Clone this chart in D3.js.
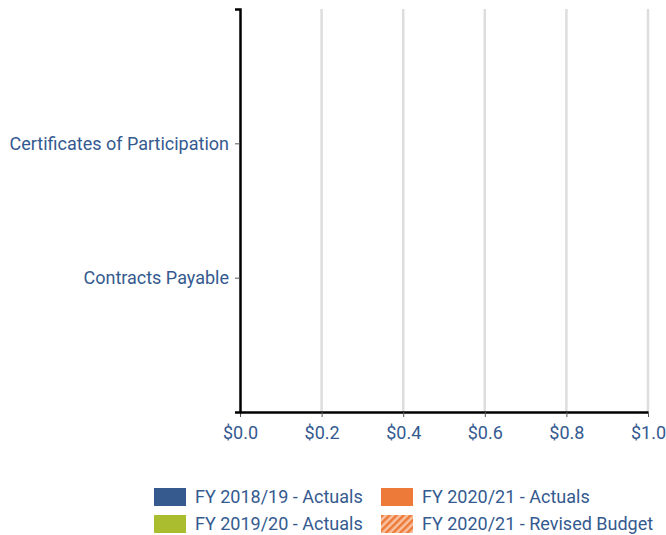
<!DOCTYPE html>
<html><head><meta charset="utf-8">
<script src="https://cdn.jsdelivr.net/npm/d3@7"></script>
<style>
body{margin:0;background:#fff;}
svg text{font-family:Roboto, "Noto Sans", sans-serif;}
</style></head>
<body><svg id="c" width="666" height="535"></svg>
<script>
const categories = ["Certificates of Participation", "Contracts Payable"];
const seriesNames = ["FY 2018/19 - Actuals", "FY 2019/20 - Actuals", "FY 2020/21 - Actuals", "FY 2020/21 - Revised Budget"];
const fy1819 = [0, 0];
const fy1920 = [0, 0];
const fy2021 = [0, 0];
const fy2021Budget = [0, 0];
const xTicks = [0, 0.2, 0.4, 0.6, 0.8, 1.0];

const colors = ["#375A8E", "#A9BD2E", "#EE7A3A", "#EE7A3A"];
const textColor = "#345A90";
const series = [fy1819, fy1920, fy2021, fy2021Budget];

const svg = d3.select("#c");
const m = {l:240, r:18, t:9, b:123};
const W = 666, H = 535;
const x = d3.scaleLinear().domain([0,1]).range([m.l, W-m.r]);
const y = d3.scalePoint().domain(categories).range([m.t, H-m.b]).padding(1);

const defs = svg.append("defs");
const pat = defs.append("pattern").attr("id","hatch").attr("patternUnits","userSpaceOnUse")
  .attr("width",5).attr("height",5).attr("patternTransform","rotate(45)");
pat.append("rect").attr("width",5).attr("height",5).attr("fill","#F8C3A3");
pat.append("rect").attr("width",2.5).attr("height",5).attr("fill","#EE7A3A");

// grid
svg.append("g").selectAll("line").data(xTicks.slice(1)).join("line")
  .attr("x1",d=>x(d)).attr("x2",d=>x(d)).attr("y1",m.t).attr("y2",H-m.b)
  .attr("stroke","#dddddd").attr("stroke-width",2.5);

// bars
const bandH = y.step()*0.6;
const bh = bandH/series.length;
series.forEach((s,i)=>{
  svg.append("g").selectAll("rect").data(categories).join("rect")
    .attr("x",x(0)).attr("y",(d)=>y(d)-bandH/2+i*bh).attr("height",bh)
    .attr("width",(d,j)=>x(s[j])-x(0))
    .attr("fill", i===3 ? "url(#hatch)" : colors[i]);
});

// x axis
const xa = svg.append("g").attr("transform",`translate(0,${H-m.b})`)
  .call(d3.axisBottom(x).tickValues(xTicks).tickFormat(d=>"$"+d.toFixed(1)).tickSize(5).tickSizeOuter(0));
xa.select(".domain").attr("stroke","#000").attr("stroke-width",2.5);
xa.selectAll(".tick line").attr("stroke","#555");
xa.selectAll("text").attr("fill",textColor).attr("font-size",18).attr("y",10).attr("dy","0.95em");

// y axis
const ya = svg.append("g").attr("transform",`translate(${m.l},0)`)
  .call(d3.axisLeft(y).tickSize(5).tickSizeOuter(5));
ya.select(".domain").attr("stroke","#000").attr("stroke-width",2.5);
ya.selectAll(".tick line").attr("stroke","#555");
ya.selectAll("text").attr("fill",textColor).attr("font-size",18).attr("x",-11);

// legend
const lg = svg.append("g");
const pos = [[154,488],[154,515],[381,488],[381,515]];
seriesNames.forEach((n,i)=>{
  const g = lg.append("g").attr("transform",`translate(${pos[i][0]},${pos[i][1]})`);
  g.append("rect").attr("width",32).attr("height",18).attr("fill", i===3?"url(#hatch)":colors[i]);
  g.append("text").attr("x",41).attr("y",9).attr("dy","0.36em").attr("fill",textColor)
   .attr("font-size",18).text(n);
});
</script></body></html>
